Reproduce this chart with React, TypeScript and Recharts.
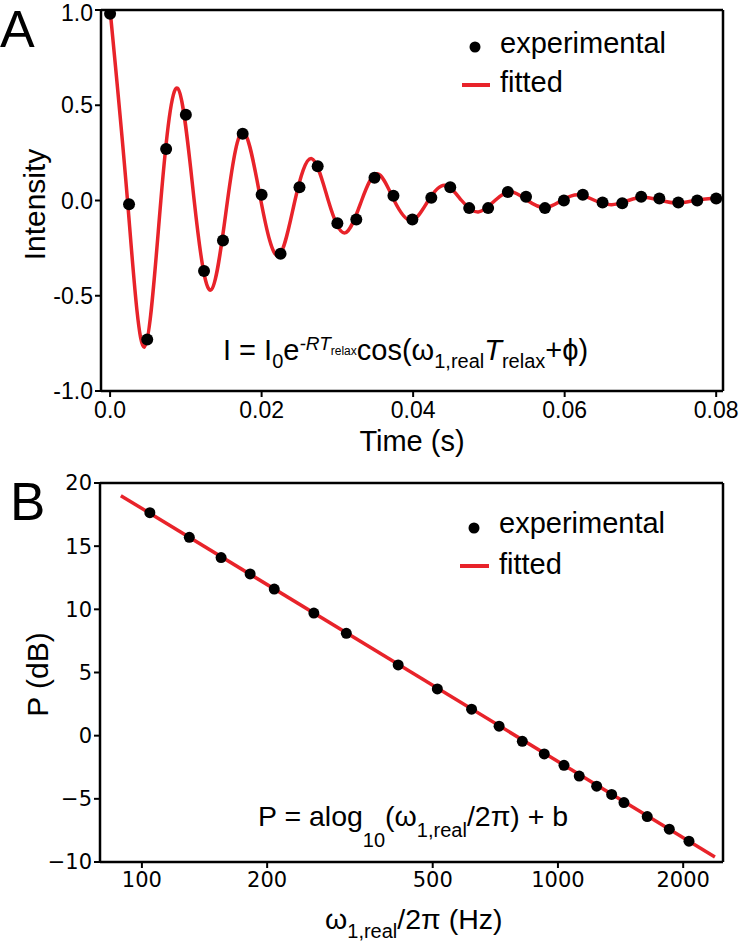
import {
  ComposedChart,
  Line,
  Scatter,
  XAxis,
  YAxis,
  Label,
  ReferenceLine,
} from "recharts";

/** --- Panel A: relaxation signal --- */
const expTime = [
  0, 0.0025, 0.0049, 0.0074, 0.01, 0.0124, 0.0149, 0.0175, 0.02, 0.0225,
  0.025, 0.0274, 0.03, 0.0325, 0.0349, 0.0374, 0.0399, 0.0424, 0.0449, 0.0474,
  0.0499, 0.0525, 0.0549, 0.0574, 0.0599, 0.0624, 0.065, 0.0676, 0.0701,
  0.0725, 0.075, 0.0775, 0.08,
];
const expIntensity = [
  0.98, -0.02, -0.73, 0.27, 0.45, -0.37, -0.21, 0.35, 0.03, -0.28, 0.07, 0.18,
  -0.12, -0.1, 0.12, 0.025, -0.1, 0.015, 0.07, -0.04, -0.04, 0.045, 0.02,
  -0.04, 0.0, 0.03, -0.01, -0.015, 0.02, 0.01, -0.01, 0.0, 0.01,
];

// fitted curve read at its peaks, troughs and zero crossings
const fitTime = [
  0, 0.0023, 0.0045, 0.0067, 0.0089, 0.0111, 0.0133, 0.0155, 0.0176, 0.0199,
  0.0222, 0.0244, 0.0266, 0.0288, 0.031, 0.0332, 0.0353, 0.0375, 0.0398,
  0.042, 0.0442, 0.0464, 0.0486, 0.0508, 0.0529, 0.0551, 0.0574, 0.0596,
  0.0618, 0.064, 0.0662, 0.0684, 0.0705, 0.0727, 0.075, 0.0772, 0.0793, 0.08,
];
const fitIntensity = [
  1.0, 0, -0.77, 0, 0.59, 0, -0.47, 0, 0.36, 0, -0.29, 0, 0.22, 0, -0.17, 0,
  0.14, 0, -0.105, 0, 0.08, 0, -0.06, 0, 0.046, 0, -0.037, 0, 0.03, 0, -0.022,
  0, 0.017, 0, -0.013, 0, 0.01, 0.009,
];

const timeTicks = [0, 0.02, 0.04, 0.06, 0.08];
const intensityTicks = [-1, -0.5, 0, 0.5, 1];

/** --- Panel B: power vs nutation frequency --- */
const expFreq = [
  104.5, 130, 155, 182, 208, 259, 310, 413, 513, 620, 722, 821, 927, 1034,
  1125, 1239, 1346, 1441, 1639, 1852, 2065,
];
const expPower = [
  17.65, 15.7, 14.1, 12.8, 11.6, 9.7, 8.1, 5.6, 3.7, 2.1, 0.75, -0.45, -1.45,
  -2.35, -3.2, -4.0, -4.65, -5.3, -6.4, -7.4, -8.35,
];
const fitFreq = [89, 2384];
const fitPower = [19.0, -9.6];

const freqTicks = [100, 200, 500, 1000, 2000];
const powerTicks = [-10, -5, 0, 5, 10, 15, 20];

const RED = "#e8232a";
const ARIAL = "'Liberation Sans', Arial, sans-serif";
const DEJAVU = "'DejaVu Sans', sans-serif";

const expA = expTime.map((t, i) => ({ t, I: expIntensity[i] }));
const fitA = fitTime.map((t, i) => ({ t, I: fitIntensity[i] }));
const expB = expFreq.map((f, i) => ({ f, P: expPower[i] }));
const fitB = fitFreq.map((f, i) => ({ f, P: fitPower[i] }));

const dotA = (props: any) =>
  props.cx == null ? null : <circle cx={props.cx} cy={props.cy} r={6} fill="#000" />;
const dotB = (props: any) =>
  props.cx == null ? null : <circle cx={props.cx} cy={props.cy} r={5.5} fill="#000" />;

const axisLine = { stroke: "#000", strokeWidth: 2.5 };

const XTitle = ({ viewBox, text, dy }: any) => {
  if (!viewBox) return null;
  return (
    <text
      x={viewBox.x + viewBox.width / 2}
      y={viewBox.y + dy}
      textAnchor="middle"
      fontFamily={ARIAL}
      fontSize={29}
      fill="#000"
    >
      {text}
    </text>
  );
};

const YTitle = ({ viewBox, text, x, shift }: any) => {
  if (!viewBox) return null;
  const cy = viewBox.y + viewBox.height / 2 + shift;
  return (
    <text
      x={x}
      y={cy}
      transform={`rotate(-90 ${x} ${cy})`}
      textAnchor="middle"
      fontFamily={ARIAL}
      fontSize={30}
      fill="#000"
    >
      {text}
    </text>
  );
};

function PanelA() {
  return (
    <ComposedChart
      width={739}
      height={460}
      margin={{ top: 10, right: 16, left: 0, bottom: 0 }}
    >
      <XAxis
        type="number"
        dataKey="t"
        domain={[-0.0012, 0.0809]}
        allowDataOverflow
        ticks={timeTicks}
        tickFormatter={(v: number) => (v === 0 ? "0.0" : v.toFixed(2))}
        height={69}
        axisLine={axisLine}
        tickLine={{ stroke: "#000", strokeWidth: 2 }}
        tickSize={6}
        tickMargin={5}
        tick={{ fill: "#000", fontSize: 23, fontFamily: ARIAL }}
      >
        <Label content={(p: any) => <XTitle {...p} text="Time (s)" dy={60} />} />
      </XAxis>
      <YAxis
        type="number"
        dataKey="I"
        domain={[-1, 1]}
        allowDataOverflow
        ticks={intensityTicks}
        tickFormatter={(v: number) => v.toFixed(1)}
        width={101}
        axisLine={axisLine}
        tickLine={{ stroke: "#000", strokeWidth: 2 }}
        tickSize={6}
        tickMargin={2}
        tick={{ fill: "#000", fontSize: 23, fontFamily: ARIAL }}
      >
        <Label content={(p: any) => <YTitle {...p} text="Intensity" x={45} shift={4} />} />
      </YAxis>
      <ReferenceLine y={1} stroke="#000" strokeWidth={2.5} />
      <ReferenceLine x={0.0809} stroke="#000" strokeWidth={2.5} />
      <Line
        data={fitA}
        dataKey="I"
        type="natural"
        stroke={RED}
        strokeWidth={3.5}
        dot={false}
        activeDot={false}
        isAnimationActive={false}
      />
      <Scatter data={expA} dataKey="I" shape={dotA} isAnimationActive={false} />
    </ComposedChart>
  );
}

function PanelB() {
  return (
    <ComposedChart
      width={739}
      height={472}
      margin={{ top: 13, right: 16, left: 0, bottom: 0 }}
    >
      <XAxis
        type="number"
        dataKey="f"
        scale="log"
        domain={[79.3, 2493]}
        allowDataOverflow
        ticks={freqTicks}
        height={80}
        axisLine={axisLine}
        tickLine={{ stroke: "#000", strokeWidth: 2 }}
        tickSize={6}
        tickMargin={4}
        tick={{ fill: "#000", fontSize: 21, fontFamily: DEJAVU }}
      />
      <YAxis
        type="number"
        dataKey="P"
        domain={[-10, 20]}
        allowDataOverflow
        ticks={powerTicks}
        tickFormatter={(v: number) => (v < 0 ? "\u2212" + Math.abs(v) : String(v))}
        width={100}
        axisLine={axisLine}
        tickLine={{ stroke: "#000", strokeWidth: 2 }}
        tickSize={6}
        tickMargin={2}
        tick={{ fill: "#000", fontSize: 21, fontFamily: DEJAVU }}
      >
        <Label content={(p: any) => <YTitle {...p} text="P (dB)" x={48} shift={2} />} />
      </YAxis>
      <ReferenceLine y={20} stroke="#000" strokeWidth={2.5} />
      <ReferenceLine x={2493} stroke="#000" strokeWidth={2.5} />
      <Line
        data={fitB}
        dataKey="P"
        type="linear"
        stroke={RED}
        strokeWidth={3.5}
        dot={false}
        activeDot={false}
        isAnimationActive={false}
      />
      <Scatter data={expB} dataKey="P" shape={dotB} isAnimationActive={false} />
    </ComposedChart>
  );
}

function Overlay() {
  const t = { fontFamily: ARIAL, fill: "#000" };
  return (
    <svg
      width={739}
      height={942}
      style={{ position: "absolute", left: 0, top: 0, pointerEvents: "none" }}
    >
      <text x={0} y={47} fontSize={52} {...t}>A</text>
      <text x={10} y={520} fontSize={53} {...t}>B</text>

      {/* legend A */}
      <circle cx={475} cy={47} r={5.5} fill="#000" />
      <text x={500} y={53} fontSize={29} {...t}>experimental</text>
      <line x1={462} x2={490} y1={85} y2={85} stroke={RED} strokeWidth={4} />
      <text x={500} y={92} fontSize={29} {...t}>fitted</text>

      {/* legend B */}
      <circle cx={474} cy={528} r={5.5} fill="#000" />
      <text x={499} y={533} fontSize={29} {...t}>experimental</text>
      <line x1={460} x2={489} y1={566} y2={566} stroke={RED} strokeWidth={4} />
      <text x={499} y={574} fontSize={29} {...t}>fitted</text>

      {/* equation A */}
      <text x={223} y={360} fontSize={29} {...t}>
        I = I<tspan fontSize={20} dy={8}>0</tspan>
        <tspan dy={-8}>e</tspan>
        <tspan fontSize={19} dy={-10} fontStyle="italic">-RT</tspan>
        <tspan fontSize={12} dy={5}>relax</tspan>
        <tspan dy={5}>cos(ω</tspan>
        <tspan fontSize={20} dy={8}>1,real</tspan>
        <tspan dy={-8} fontStyle="italic">T</tspan>
        <tspan fontSize={20} dy={8}>relax</tspan>
        <tspan dy={-8}>+ϕ)</tspan>
      </text>

      {/* equation B */}
      <text x={258} y={826} fontSize={28.5} {...t}>
        P = alog<tspan fontSize={20} dy={21}>10</tspan>
        <tspan dy={-21}>(ω</tspan>
        <tspan fontSize={20} dy={11}>1,real</tspan>
        <tspan dy={-11}>/2π) + b</tspan>
      </text>

      {/* x label B */}
      <text x={325} y={929} fontSize={28.5} {...t}>
        ω<tspan fontSize={20} dy={9}>1,real</tspan>
        <tspan dy={-9}>/2π (Hz)</tspan>
      </text>
    </svg>
  );
}

export default function App() {
  return (
    <div
      style={{
        position: "absolute",
        left: 0,
        top: 0,
        width: 739,
        height: 942,
        background: "#fff",
      }}
    >
      <div style={{ position: "absolute", left: 0, top: 0 }}>
        <PanelA />
      </div>
      <div style={{ position: "absolute", left: 0, top: 470 }}>
        <PanelB />
      </div>
      <Overlay />
    </div>
  );
}
